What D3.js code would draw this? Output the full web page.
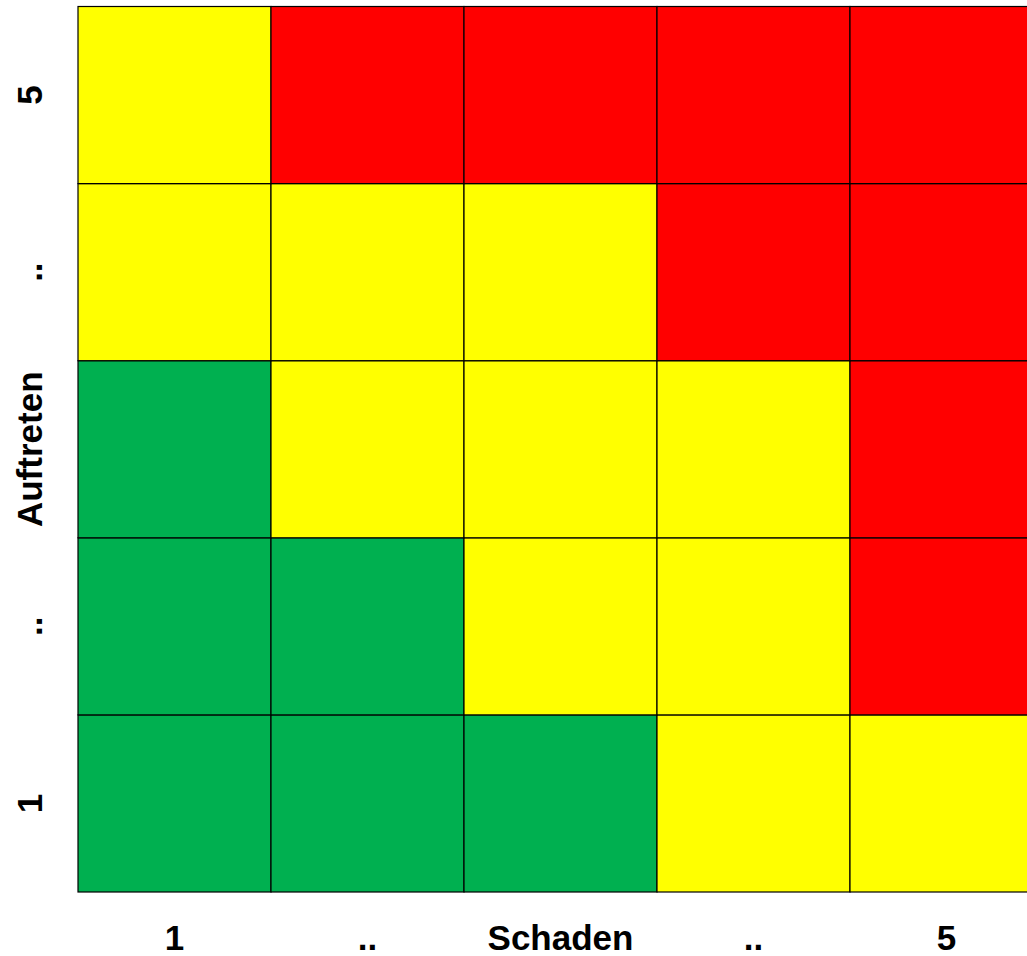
<!DOCTYPE html>
<html>
<head>
<meta charset="utf-8">
<script src="https://cdn.jsdelivr.net/npm/d3@7"></script>
<style>
  html, body { margin: 0; padding: 0; background: #fff; overflow: hidden; }
  svg { display: block; }
</style>
</head>
<body>
<div id="chart"></div>
<script>
  // Risikomatrix: Schaden (x) gegen Auftreten (y)
  const schadenLabels = ['1', '..', 'Schaden', '..', '5'];
  const auftretenLabels = ['1', '..', 'Auftreten', '..', '5'];
  const schadenLevels = [1, 2, 3, 4, 5];
  const auftretenLevels = [1, 2, 3, 4, 5];

  // Risikostufe je Zelle, Zeilen von Auftreten 1 (unten) bis 5 (oben)
  const riskRows = [
    ['g', 'g', 'g', 'y', 'y'],
    ['g', 'g', 'y', 'y', 'r'],
    ['g', 'y', 'y', 'y', 'r'],
    ['y', 'y', 'y', 'r', 'r'],
    ['y', 'r', 'r', 'r', 'r']
  ];
  const riskColors = { g: '#00B050', y: '#FFFF00', r: '#FF0000' };

  (function() {
    const width = 1027, height = 956;
    const gridLeft = 78, gridTop = 6.5, cellW = 193, gridBottom = 892;

    const svg = d3.select('#chart')
      .append('svg')
      .attr('width', width)
      .attr('height', height);

    const x = d3.scaleBand()
      .domain(schadenLevels)
      .range([gridLeft, gridLeft + cellW * schadenLevels.length]);

    const y = d3.scaleBand()
      .domain(auftretenLevels)
      .range([gridBottom, gridTop]);

    // Zellen
    const cells = [];
    riskRows.forEach((row, i) => {
      row.forEach((risk, j) => {
        cells.push({ a: auftretenLevels[i], s: schadenLevels[j], risk: risk });
      });
    });

    svg.append('g')
      .selectAll('rect')
      .data(cells)
      .enter()
      .append('rect')
      .attr('x', d => x(d.s))
      .attr('y', d => y(d.a))
      .attr('width', x.bandwidth())
      .attr('height', y.bandwidth())
      .attr('fill', d => riskColors[d.risk])
      .attr('stroke', '#000')
      .attr('stroke-width', 1.2);

    // Beschriftung unten
    svg.append('g')
      .selectAll('text')
      .data(schadenLevels)
      .enter()
      .append('text')
      .attr('x', d => x(d) + x.bandwidth() / 2)
      .attr('y', 950)
      .attr('text-anchor', 'middle')
      .attr('font-family', 'Liberation Sans, Arial, sans-serif')
      .attr('font-weight', 'bold')
      .attr('font-size', '35px')
      .attr('fill', '#000')
      .text((d, i) => schadenLabels[i]);

    // Beschriftung links (gedreht)
    svg.append('g')
      .selectAll('text')
      .data(auftretenLevels)
      .enter()
      .append('text')
      .attr('transform', d => `translate(42,${y(d) + y.bandwidth() / 2}) rotate(-90)`)
      .attr('text-anchor', 'middle')
      .attr('font-family', 'Liberation Sans, Arial, sans-serif')
      .attr('font-weight', 'bold')
      .attr('font-size', '35px')
      .attr('fill', '#000')
      .text((d, i) => auftretenLabels[i]);
  })();
</script>
</body>
</html>
